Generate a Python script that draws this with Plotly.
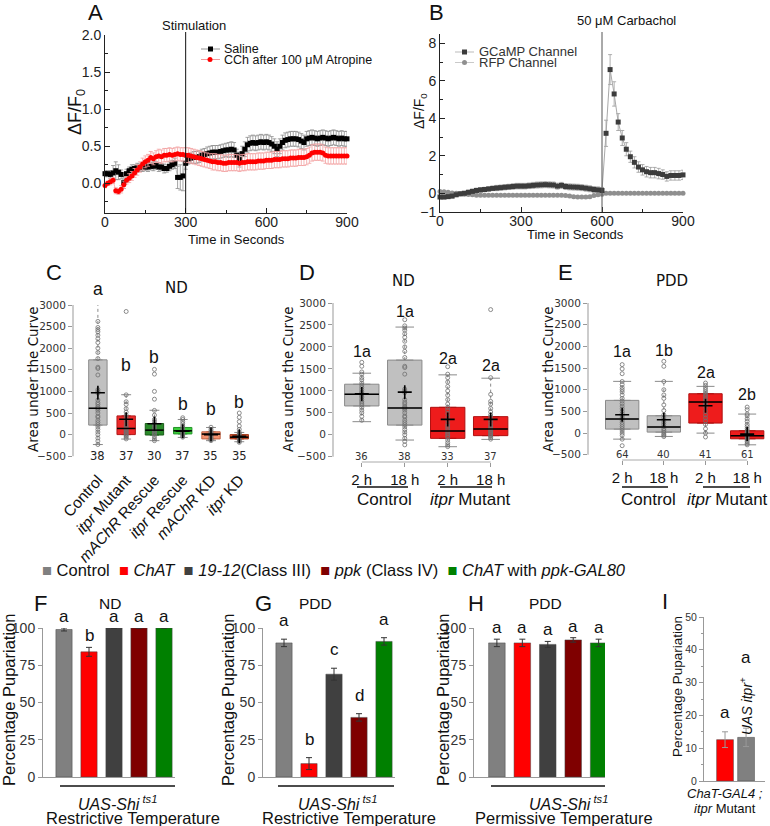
import plotly.graph_objects as go

W, H = 770, 826
SANS = "Liberation Sans, Arial, Helvetica, sans-serif"
DJV = "DejaVu Sans, Verdana, sans-serif"

# ======================= DATA =======================
# ---- Panel A ----
a_time = list(range(0, 901, 10))
a_saline = [0.13,0.13,0.12,0.14,0.17,0.15,0.12,0.01,0.13,0.17,
            0.19,0.20,0.21,0.21,0.22,0.22,0.22,0.23,0.23,0.24,
            0.22,0.22,0.20,0.20,0.23,0.25,0.27,0.08,0.08,0.10,
            0.27,0.33,0.34,0.35,0.35,0.36,0.38,0.39,0.40,0.41,
            0.42,0.42,0.42,0.43,0.44,0.45,0.45,0.46,0.45,0.38,
            0.32,0.40,0.46,0.52,0.54,0.55,0.54,0.55,0.56,0.55,
            0.56,0.55,0.53,0.50,0.46,0.50,0.55,0.58,0.59,0.60,
            0.60,0.60,0.59,0.57,0.55,0.60,0.61,0.62,0.61,0.60,
            0.61,0.62,0.61,0.60,0.61,0.62,0.61,0.60,0.61,0.60,
            0.60]
a_saline_err = [0.04,0.04,0.05,0.10,0.12,0.10,0.06,0.08,0.06,0.05,
                0.06,0.05,0.06,0.05,0.06,0.05,0.06,0.05,0.06,0.05,
                0.06,0.05,0.06,0.05,0.06,0.06,0.07,0.15,0.17,0.20,
                0.08,0.07,0.07,0.08,0.08,0.08,0.08,0.08,0.09,0.09,
                0.09,0.09,0.09,0.09,0.09,0.09,0.10,0.10,0.10,0.08,
                0.10,0.10,0.10,0.10,0.10,0.10,0.10,0.10,0.10,0.10,
                0.10,0.10,0.10,0.10,0.10,0.10,0.10,0.10,0.10,0.10,
                0.10,0.10,0.10,0.10,0.10,0.10,0.10,0.10,0.10,0.10,
                0.10,0.10,0.10,0.10,0.10,0.10,0.10,0.10,0.10,0.10,
                0.10]
a_cch = [-0.03,0.00,0.02,0.04,-0.10,-0.11,-0.08,-0.02,0.04,0.07,
         0.10,0.14,0.18,0.22,0.26,0.29,0.31,0.35,0.33,0.36,
         0.37,0.36,0.38,0.38,0.39,0.38,0.39,0.40,0.39,0.39,
         0.38,0.38,0.37,0.36,0.35,0.34,0.33,0.32,0.31,0.30,
         0.29,0.29,0.28,0.28,0.27,0.27,0.28,0.28,0.28,0.28,
         0.27,0.28,0.28,0.29,0.29,0.29,0.29,0.30,0.30,0.30,
         0.31,0.31,0.31,0.32,0.32,0.32,0.33,0.33,0.33,0.34,
         0.34,0.34,0.35,0.35,0.35,0.36,0.38,0.41,0.42,0.42,
         0.42,0.41,0.38,0.37,0.37,0.37,0.37,0.37,0.37,0.37,
         0.37]
a_cch_err = [0.03,0.03,0.04,0.04,0.04,0.04,0.05,0.05,0.05,0.06,
             0.06,0.06,0.07,0.07,0.08,0.08,0.08,0.08,0.08,0.08,
             0.09,0.09,0.09,0.09,0.09,0.09,0.09,0.09,0.09,0.09,
             0.10,0.10,0.10,0.10,0.10,0.10,0.10,0.10,0.10,0.10,
             0.11,0.11,0.11,0.11,0.11,0.11,0.11,0.11,0.11,0.11,
             0.11,0.11,0.11,0.11,0.11,0.11,0.11,0.11,0.11,0.11,
             0.11,0.11,0.11,0.11,0.11,0.11,0.11,0.11,0.11,0.11,
             0.11,0.11,0.11,0.11,0.11,0.11,0.11,0.11,0.11,0.11,
             0.11,0.11,0.11,0.11,0.11,0.11,0.11,0.11,0.11,0.11,
             0.11]
a_stim = 300

# ---- Panel B ----
b_time = list(range(0, 901, 15))
b_gcamp = [-0.20,-0.20,-0.18,-0.15,-0.08,-0.03,0.00,0.05,0.10,0.15,
           0.18,0.20,0.23,0.26,0.28,0.30,0.32,0.34,0.36,0.38,
           0.38,0.38,0.40,0.42,0.44,0.45,0.46,0.45,0.44,0.38,
           0.42,0.36,0.34,0.33,0.32,0.30,0.27,0.24,0.20,0.18,
           0.15,3.20,6.60,5.30,3.80,2.95,2.35,1.95,1.65,1.40,
           1.25,1.15,1.10,1.10,1.05,1.00,0.90,0.95,0.95,0.95,
           0.98]
b_gcamp_err = [0.10,0.10,0.10,0.10,0.10,0.10,0.10,0.12,0.12,0.12,
               0.12,0.12,0.12,0.12,0.14,0.14,0.14,0.14,0.15,0.15,
               0.15,0.15,0.15,0.16,0.16,0.16,0.16,0.16,0.16,0.16,
               0.16,0.16,0.16,0.16,0.16,0.16,0.16,0.16,0.16,0.16,
               0.16,0.70,0.80,0.65,0.45,0.40,0.35,0.30,0.30,0.28,
               0.28,0.28,0.28,0.28,0.28,0.25,0.25,0.25,0.25,0.25,
               0.25]
b_rfp = [0.10,0.08,0.05,0.02,0.00,-0.02,-0.05,-0.07,-0.08,-0.10,
         -0.10,-0.10,-0.10,-0.10,-0.10,-0.10,-0.10,-0.10,-0.10,-0.10,
         -0.10,-0.10,-0.10,-0.10,-0.10,-0.10,-0.10,-0.10,-0.10,-0.10,
         -0.10,-0.12,-0.15,-0.18,-0.20,-0.20,-0.20,-0.18,-0.12,-0.08,
         -0.05,0.00,0.00,0.00,0.00,0.00,0.00,0.00,0.00,0.00,
         0.00,0.00,0.00,0.00,0.00,0.00,0.00,0.00,0.00,0.00,
         0.00]
b_rfp_err = [0.05,0.05,0.05,0.05,0.05,0.05,0.05,0.05,0.05,0.05,
             0.05,0.05,0.05,0.05,0.05,0.05,0.05,0.05,0.05,0.05,
             0.05,0.05,0.05,0.05,0.05,0.05,0.05,0.05,0.05,0.05,
             0.05,0.05,0.05,0.05,0.05,0.05,0.05,0.05,0.05,0.05,
             0.05,0.05,0.05,0.05,0.05,0.05,0.05,0.05,0.05,0.05,
             0.05,0.05,0.05,0.05,0.05,0.05,0.05,0.05,0.05,0.05,
             0.05]
b_stim = 600

# ---- Panel C (ND) ----
c_labels = ['Control', '<i>itpr</i> Mutant', '<i>mAChR</i> Rescue',
            '<i>itpr</i> Rescue', '<i>mAChR</i> KD', '<i>itpr</i> KD']
c_q1 = [220, 0, -10, 15, -100, -100]
c_med = [610, 142, 103, 88, 12, -60]
c_q3 = [1730, 433, 257, 165, 65, 0]
c_lo = [-230, -103, -140, -65, -140, -165]
c_hi = [3060, 923, 563, 350, 165, 50]
c_mean = [970, 356, 250, 80, 0, -40]
c_n = [38, 37, 30, 37, 35, 35]
c_letters = ['a', 'b', 'b', 'b', 'b', 'b']
c_points = [
    [3060, 2620, 2480, 2430, 2380, 2300, 2220, 2130, 2000, 1900, 1760, 1560, 1530, 1380,
     1040, 1000, 960, 800, 740, 700, 650, 620, 600, 560, 500, 430, 400, 330, 280, 230,
     180, 120, 60, 0, -80, -150, -230],
    [2850, 920, 760, 700, 600, 520, 450, 400, 330, 280, 220, 180, 150, 130, 100, 80, 50,
     20, 0, -30, -60, -100],
    [1510, 1400, 1000, 820, 560, 450, 350, 300, 250, 200, 150, 100, 80, 50, 20, 0, -50,
     -100, -140],
    [390, 350, 300, 250, 200, 160, 120, 100, 80, 60, 40, 20, 0, -30, -60],
    [170, 120, 80, 50, 20, 0, -30, -60, -90, -110, -140],
    [500, 400, 300, 200, 120, 50, 20, 0, -30, -60, -90, -120, -150, -180],
]

# ---- Panel D (ND) ----
d_ticks = ['2 h', '18 h', '2 h', '18 h']
d_q1 = [656, 220, -82, -20]
d_med = [922, 610, 85, 130]
d_q3 = [1151, 1700, 625, 413]
d_lo = [298, -120, -272, -105]
d_hi = [1402, 2452, 1364, 1288]
d_mean = [930, 970, 350, 350]
d_n = [36, 38, 33, 37]
d_letters = ['1a', '1a', '2a', '2a']
d_points = [
    [1650, 1560, 1430, 1380, 1300, 1250, 1180, 1130, 1080, 1030, 980, 950, 920, 880, 850,
     800, 760, 720, 680, 620, 560, 500, 420, 330],
    [3060, 2620, 2480, 2430, 2380, 2300, 2220, 2130, 2000, 1900, 1760, 1560, 1530, 1380,
     1040, 1000, 960, 800, 740, 700, 650, 620, 600, 560, 500, 430, 400, 330, 280, 230,
     180, 120, 60, 0, -80, -150, -230],
    [1550, 1380, 1300, 1200, 1100, 1000, 900, 800, 700, 620, 560, 480, 400, 330, 250, 200,
     150, 100, 60, 20, -20, -60, -120, -180, -230, -270],
    [2850, 1300, 920, 760, 700, 600, 520, 450, 400, 330, 280, 220, 180, 150, 130, 100, 80,
     50, 20, 0, -30, -60, -100],
]

# ---- Panel E (PDD) ----
e_ticks = ['2 h', '18 h', '2 h', '18 h']
e_q1 = [92, 23, 231, -131]
e_med = [323, 139, 716, -62]
e_q3 = [755, 400, 908, 54]
e_lo = [-139, -77, 0, -270]
e_hi = [1193, 1193, 1078, 439]
e_mean = [423, 308, 631, -23]
e_n = [64, 40, 41, 61]
e_letters = ['1a', '1b', '2a', '2b']
e_points = [
    [1580, 1480, 1370, 1190, 1120, 1050, 1000, 950, 880, 800, 740, 680, 620, 560, 500, 450,
     400, 350, 300, 250, 200, 150, 100, 50, 0, -50, -140, -290],
    [1655, 1540, 1190, 1000, 880, 800, 650, 520, 420, 350, 300, 250, 200, 150, 100, 60, 20,
     -20, -50, -80],
    [1155, 1100, 1050, 1000, 950, 900, 850, 800, 750, 700, 650, 600, 500, 420, 350, 280,
     200, 100, 0, -90],
    [600, 540, 440, 400, 330, 270, 200, 150, 100, 60, 20, 0, -20, -40, -60, -80, -100, -130,
     -160, -200, -240, -270],
]

# ---- Panels F-I ----
bar_groups = ['Control', '<i>ChAT</i>', '<i>19-12</i>(Class III)', '<i>ppk</i> (Class IV)',
              '<i>ChAT</i> with <i>ppk-GAL80</i>']
f_vals = [99, 84, 100, 100, 100]
f_err = [1, 3, 0, 0, 0]
f_letters = ['a', 'b', 'a', 'a', 'a']
g_vals = [90, 9, 69, 40, 91]
g_err = [2.5, 4, 4, 2.5, 2.5]
g_letters = ['a', 'b', 'c', 'd', 'a']
h_vals = [90, 90, 89, 92, 90]
h_err = [2.5, 2.5, 2, 1.5, 2.5]
h_letters = ['a', 'a', 'a', 'a', 'a']
i_vals = [12.6, 13.3]
i_err = [2.4, 2.8]
i_letters = ['a', 'a']

# ======================= STYLE / LAYOUT =======================
box_fill_c = ['#c0c0c0', '#ee2a2a', '#2a8a2a', '#3ccc3c', '#f4916e', '#d4532e']
box_line_c = ['#8a8a8a', '#b01818', '#1a5e1a', '#24962a', '#c0684a', '#a33a1c']
box_fill_de = ['#c0c0c0', '#c0c0c0', '#ee1c1c', '#ee1c1c']
box_line_de = ['#8a8a8a', '#8a8a8a', '#b01010', '#b01010']
bar_colors = ['#808080', '#ff0000', '#404040', '#7f0000', '#008000']
i_colors = ['#ff0000', '#808080']

# label placements (value units, only positions of text labels)
c_letter_pos = [3380, 1600, 1800, 700, 600, 750]
d_letter_pos = [1900, 2810, 1744, 1569]
e_letter_pos = [1887, 1910, 1409, 885]

# panel geometry in pixels: x0,x1 (left,right), y0,y1 (top,bottom)
PA = dict(n=1, x0=105, x1=347, xr=(0, 900), y0=35, y1=213, yr=(-0.4, 2.0))
PB = dict(n=2, x0=440, x1=683, xr=(0, 900), y0=34, y1=212, yr=(-1, 8.5))
PC = dict(n=3, x0=73, x1=252, xr=(-0.88, 5.45), y0=305, y1=467, yr=(-750, 3000))
PD = dict(n=4, x0=333, x1=510, xr=(-0.67, 3.45), y0=303, y1=462, yr=(-620, 3000))
PE = dict(n=5, x0=588, x1=768, xr=(-0.82, 3.5), y0=303, y1=460, yr=(-620, 3000))
PF = dict(n=6, x0=43, x1=175, xr=(-0.84, 4.44), y0=628, y1=777, yr=(0, 100))
PG = dict(n=7, x0=263, x1=395, xr=(-0.84, 4.44), y0=628, y1=777, yr=(0, 100))
PH = dict(n=8, x0=474, x1=605, xr=(-0.9, 4.25), y0=628, y1=777, yr=(0, 100))
PI = dict(n=9, x0=704, x1=765, xr=(-1.0, 1.9), y0=617, y1=781, yr=(0, 50))


def sfx(P):
    return '' if P['n'] == 1 else str(P['n'])


def xp(P, v):
    return P['x0'] + (v - P['xr'][0]) / (P['xr'][1] - P['xr'][0]) * (P['x1'] - P['x0'])


def yp(P, v):
    return P['y1'] - (v - P['yr'][0]) / (P['yr'][1] - P['yr'][0]) * (P['y1'] - P['y0'])


fig = go.Figure()
layout = {}
anns = []
shapes = []


def setup(P, xopt, yopt):
    s = sfx(P)
    layout['xaxis' + s] = dict(domain=[P['x0'] / W, P['x1'] / W], range=list(P['xr']),
                               anchor='y' + s, showgrid=False, zeroline=False, fixedrange=True,
                               automargin=False, **xopt)
    layout['yaxis' + s] = dict(domain=[1 - P['y1'] / H, 1 - P['y0'] / H], range=list(P['yr']),
                               anchor='x' + s, showgrid=False, zeroline=False, fixedrange=True,
                               automargin=False, **yopt)


def T(x, y, text, size=14, family=SANS, color='#111', angle=0, xa='center', ya='middle'):
    anns.append(dict(x=x / W, y=1 - y / H, xref='paper', yref='paper', text=text, showarrow=False,
                     font=dict(size=size, family=family, color=color), textangle=angle,
                     xanchor=xa, yanchor=ya))


def L(x0, y0, x1, y1, color='#000', width=1, dash='solid'):
    shapes.append(dict(type='line', xref='paper', yref='paper', x0=x0 / W, x1=x1 / W,
                       y0=1 - y0 / H, y1=1 - y1 / H, line=dict(color=color, width=width, dash=dash)))


def R(x0, y0, x1, y1, color, kind='rect'):
    shapes.append(dict(type=kind, xref='paper', yref='paper', x0=x0 / W, x1=x1 / W,
                       y0=1 - y1 / H, y1=1 - y0 / H, fillcolor=color, line=dict(width=0)))


def ax(P):
    s = sfx(P)
    return dict(xaxis='x' + s, yaxis='y' + s, showlegend=False, hoverinfo='skip')


tickA = dict(ticks='inside', ticklen=5, tickcolor='#222', showline=True, linecolor='#222',
             linewidth=1, tickfont=dict(size=14, family=SANS, color='#222'))
minA = dict(ticks='inside', ticklen=3, tickcolor='#222')

# ---------------- Panel A ----------------
setup(PA, dict(tickvals=[0, 300, 600, 900], minor=dict(tickvals=[150, 450, 750], **minA),
               ticklabelstandoff=-4, **tickA),
      dict(tickvals=[0, 0.5, 1.0, 1.5, 2.0], ticktext=['0.0', '0.5', '1.0', '1.5', '2.0'],
           minor=dict(tickvals=[-0.25, 0.25, 0.75, 1.25, 1.75], **minA), **tickA))
fig.add_trace(go.Scatter(x=a_time, y=a_saline, mode='lines+markers',
                         line=dict(color='#999999', width=0.6),
                         marker=dict(symbol='square', size=5, color='#000'),
                         error_y=dict(type='data', array=a_saline_err, color='#8c8c8c', thickness=0.8, width=2),
                         cliponaxis=False, **ax(PA)))
fig.add_trace(go.Scatter(x=a_time, y=a_cch, mode='lines+markers',
                         line=dict(color='#f08080', width=0.6),
                         marker=dict(symbol='circle', size=5, color='#ff0000'),
                         error_y=dict(type='data', array=a_cch_err, color='#f2a0a0', thickness=0.8, width=2),
                         cliponaxis=False, **ax(PA)))
L(xp(PA, a_stim), PA['y0'] - 3, xp(PA, a_stim), PA['y1'], '#111', 1)
T(194, 26, 'Stimulation', 13)
T(77, 112, 'ΔF/F<sub>0</sub>', 18, angle=-90)
T(236, 240, 'Time in Seconds', 13)
T(95, 12, 'A', 22)
# legend A
L(201, 49, 220, 49, '#777', 0.8)
R(208, 46.5, 213, 51.5, '#000')
T(222, 49, 'Saline', 12.5, xa='left')
L(201, 59.5, 220, 59.5, '#f08080', 0.8)
R(207.5, 57, 212.5, 62, '#ff0000', 'circle')
T(222, 59.5, 'CCh after 100 μM Atropine', 12.5, xa='left')

# ---------------- Panel B ----------------
setup(PB, dict(tickvals=[0, 300, 600, 900], minor=dict(tickvals=[150, 450, 750], **minA),
               ticklabelstandoff=-4, **tickA),
      dict(tickvals=[-1, 0, 2, 4, 6, 8], minor=dict(tickvals=[1, 3, 5, 7], **minA), **tickA))
fig.add_trace(go.Scatter(x=b_time, y=b_rfp, mode='lines+markers',
                         line=dict(color='#b5b5b5', width=1),
                         marker=dict(symbol='circle', size=5, color='#8f8f8f'),
                         error_y=dict(type='data', array=b_rfp_err, color='#b5b5b5', thickness=0.8, width=2),
                         cliponaxis=False, **ax(PB)))
fig.add_trace(go.Scatter(x=b_time, y=b_gcamp, mode='lines+markers',
                         line=dict(color='#a8a8a8', width=1),
                         marker=dict(symbol='square', size=5, color='#3c3c3c'),
                         error_y=dict(type='data', array=b_gcamp_err, color='#9a9a9a', thickness=0.8, width=2),
                         cliponaxis=False, **ax(PB)))
L(xp(PB, b_stim), PB['y0'] - 2, xp(PB, b_stim), PB['y1'], '#555', 1)
T(626, 20, '50 μM Carbachol', 13)
T(420, 111, 'ΔF/F<sub>0</sub>', 14, angle=-90)
T(575, 234, 'Time in Seconds', 13)
T(436, 12, 'B', 22)
L(455, 52, 474, 52, '#aaa', 0.8)
R(462, 49.5, 467, 54.5, '#3c3c3c')
T(477, 51.5, 'GCaMP Channel', 13, color='#333', xa='left')
L(455, 62.5, 474, 62.5, '#bbb', 0.8)
R(462, 60, 467, 65, '#8f8f8f', 'circle')
T(477, 62.5, 'RFP Channel', 13, color='#333', xa='left')


# ---------------- Box panels ----------------
def box_panel(P, q1s, meds, q3s, los, his, means, pts, fills, lines, width):
    for i in range(len(q1s)):
        cap = width * 0.27
        fig.add_trace(go.Scatter(x=[i, i, None, i, i], y=[q3s[i], his[i], None, los[i], q1s[i]], mode='lines',
                                 line=dict(color='#8a8a8a', width=1, dash='dot'), **ax(P)))
        fig.add_trace(go.Scatter(x=[i - cap, i + cap, None, i - cap, i + cap],
                                 y=[his[i], his[i], None, los[i], los[i]], mode='lines',
                                 line=dict(color='#8a8a8a', width=1), **ax(P)))
        fig.add_trace(go.Box(x=[i], q1=[q1s[i]], median=[meds[i]], q3=[q3s[i]],
                             lowerfence=[q1s[i]], upperfence=[q3s[i]], width=width,
                             fillcolor=fills[i], line=dict(color=lines[i], width=1),
                             boxpoints=False, xaxis='x' + sfx(P), yaxis='y' + sfx(P),
                             showlegend=False, hoverinfo='skip'))
        fig.add_trace(go.Scatter(x=[i] * len(pts[i]), y=pts[i], mode='markers', cliponaxis=False,
                                 marker=dict(symbol='circle-open', size=4, color='#707070',
                                             line=dict(width=0.8, color='#707070')), **ax(P)))
        fig.add_trace(go.Scatter(x=[i - width / 2, i + width / 2], y=[meds[i], meds[i]], mode='lines',
                                 line=dict(color='#000', width=1.5), **ax(P)))
        fig.add_trace(go.Scatter(x=[i], y=[means[i]], mode='markers', cliponaxis=False,
                                 marker=dict(symbol='cross-thin', size=10, line=dict(color='#000', width=1.6)),
                                 **ax(P)))


yopt_box = dict(tickvals=[-500, 0, 500, 1000, 1500, 2000, 2500, 3000], ticks='outside', ticklen=4,
                tickcolor='#999', showline=False, tickfont=dict(size=10.5, family=DJV, color='#333'))

# Panel C
setup(PC, dict(tickvals=list(range(6)), ticktext=c_labels, tickangle=-48, ticks='', showline=False,
               tickfont=dict(size=15.5, family=SANS, color='#111')), dict(yopt_box))
box_panel(PC, c_q1, c_med, c_q3, c_lo, c_hi, c_mean, c_points, box_fill_c, box_line_c, 0.65)
L(PC['x0'], yp(PC, 3000), PC['x0'], yp(PC, -500), '#999', 1)
for i in range(6):
    T(xp(PC, i), yp(PC, -500), str(c_n[i]), 11.5, DJV, '#222')
    T(xp(PC, i), yp(PC, c_letter_pos[i]), c_letters[i], 17.5)
T(176, 288, 'ND', 15, DJV)
T(33, 380, 'Area under the Curve', 13.5, DJV, angle=-90)
T(54, 272, 'C', 22)


def de_panel(P, ticks, q1, med, q3, lo, hi, mean, pts, ns, letters, lpos, title, title_x, lab, lab_x,
             ylab_x, ul, grp):
    setup(P, dict(tickvals=list(range(4)), ticktext=ticks, ticks='outside', ticklen=4, tickcolor='#999',
                  showline=False, tickfont=dict(size=15, family=SANS, color='#111')), dict(yopt_box))
    box_panel(P, q1, med, q3, lo, hi, mean, pts, box_fill_de, box_line_de, 0.8)
    L(P['x0'], yp(P, 3000), P['x0'], yp(P, -500), '#999', 1)
    L(xp(P, 0), P['y1'], xp(P, 3), P['y1'], '#aaa', 1)
    for i in range(4):
        T(xp(P, i), yp(P, -500), str(ns[i]), 10, DJV, '#333')
        T(xp(P, i), yp(P, lpos[i]), letters[i], 16)
    T(title_x, 281, title, 15, DJV)
    T(ylab_x, 380, 'Area under the Curve', 13.5, DJV, angle=-90)
    T(lab_x, 272, lab, 22)
    for (x0, x1) in ul:
        L(x0, 487, x1, 487, '#111', 1.6)
    for (xc, txt) in grp:
        T(xc, 499, txt, 17)


de_panel(PD, d_ticks, d_q1, d_med, d_q3, d_lo, d_hi, d_mean, d_points, d_n, d_letters, d_letter_pos,
         'ND', 404, 'D', 307, 288, [(357, 408), (440, 492)], [(384, 'Control'), (470, '<i>itpr</i> Mutant')])
de_panel(PE, e_ticks, e_q1, e_med, e_q3, e_lo, e_hi, e_mean, e_points, e_n, e_letters, e_letter_pos,
         'PDD', 672, 'E', 565, 548, [(622, 668), (703, 750)], [(648, 'Control'), (727, '<i>itpr</i> Mutant')])

# ---------------- Legend row for F-H ----------------
leg = '&nbsp;&nbsp;'.join('<span style="color:%s">■</span> %s' % (c, g) for c, g in zip(bar_colors, bar_groups))
T(40, 570, leg, 16.5, xa='left')

# ---------------- Bar panels ----------------
ybar = dict(tickvals=[0, 25, 50, 75, 100], ticks='outside', ticklen=4, tickcolor='#999', showline=True,
            linecolor='#999', linewidth=1, tickfont=dict(size=14, family=SANS, color='#333'))
xbar = dict(showticklabels=False, ticks='', showline=True, linecolor='#999', linewidth=1)


def bar_panel(P, vals, errs, colors, letters, width, lsize, lshift, ecolor='#333'):
    fig.add_trace(go.Bar(x=list(range(len(vals))), y=vals, width=width,
                         marker=dict(color=colors, line=dict(color='#444', width=0.5)),
                         error_y=dict(type='data', array=errs, color=ecolor, thickness=1, width=3),
                         **ax(P)))
    for i, v in enumerate(vals):
        if letters[i]:
            T(xp(P, i), yp(P, v + errs[i]) - lshift, letters[i], lsize, ya='bottom')


setup(PF, dict(xbar), dict(ybar))
bar_panel(PF, f_vals, f_err, bar_colors, f_letters, 0.65, 17, 0)
setup(PG, dict(xbar), dict(ybar))
bar_panel(PG, g_vals, g_err, bar_colors, g_letters, 0.65, 17, 7)
setup(PH, dict(xbar), dict(ybar))
bar_panel(PH, h_vals, h_err, bar_colors, h_letters, 0.65, 17, 0)
setup(PI, dict(xbar), dict(tickvals=[0, 10, 20, 30, 40, 50], ticks='outside', ticklen=4, tickcolor='#999',
                           showline=True, linecolor='#999', linewidth=1,
                           minor=dict(tickvals=[5, 15, 25, 35, 45], ticks='outside', ticklen=2, tickcolor='#999'),
                           tickfont=dict(size=10.5, family=SANS, color='#333')))
bar_panel(PI, i_vals, i_err, i_colors, ['a', ''], 0.8, 17, 8, ecolor='#999')

for (P, lab, lx, title, tx, ul, uas_x, temp, temp_x, ylx) in [
        (PF, 'F', 40, 'ND', 110, (60, 175), 117, 'Restrictive Temperature', 133, 9),
        (PG, 'G', 263, 'PDD', 315, (278, 394), 337, 'Restrictive Temperature', 349, 228),
        (PH, 'H', 476, 'PDD', 545, (491, 605), 568, 'Permissive Temperature', 564, 443)]:
    T(lx, 603, lab, 22)
    T(tx, 603, title, 15.5)
    L(ul[0], 786, ul[1], 786, '#111', 1.4)
    T(uas_x, 803, '<i>UAS-Shi</i><sup><i> ts1</i></sup>', 16)
    T(temp_x, 818, temp, 16.5)
    T(ylx, 700, 'Percentage Pupariation', 16.5, angle=-90)

T(665, 601, 'I', 22)
T(677, 687, 'Percentage Pupariation', 13.5, angle=-90)
T(xp(PI, 1), 706, '<i>UAS itpr</i><sup>+</sup>', 14, angle=-90)
T(xp(PI, 1), 657, i_letters[1], 17)
T(725, 793, '<i>ChaT-GAL4 ;</i>', 13)
T(725, 808, '<i>itpr</i> Mutant', 13)

fig.update_layout(width=W, height=H, margin=dict(l=0, r=0, t=0, b=0, pad=0, autoexpand=False),
                  paper_bgcolor='white', plot_bgcolor='white', showlegend=False,
                  annotations=anns, shapes=shapes,
                  boxmode='overlay', bargap=0.3, font=dict(family=SANS), **layout)
fig.write_html('out.html', config={'displayModeBar': False},
               post_script="document.body.style.margin='0';document.body.style.padding='0';document.body.style.overflow='hidden';")
